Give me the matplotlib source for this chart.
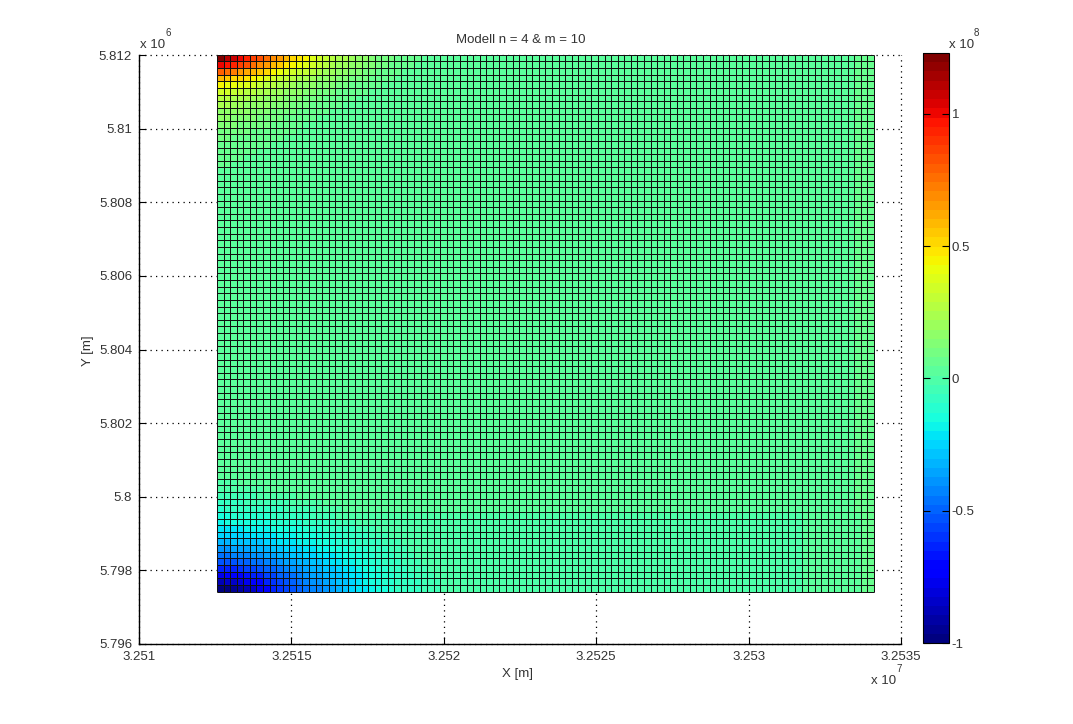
import numpy as np
import matplotlib
matplotlib.use("Agg")
import matplotlib.pyplot as plt

plt.rcParams["font.family"] = ["Liberation Sans", "DejaVu Sans"]

# grid of the model, in metres
x_start = 32512559
x_step = 215.5
y_start = 5797426
y_step = 180

x_ticks = [32510000, 32515000, 32520000, 32525000, 32530000, 32535000]
x_tick_labels = ["3.251", "3.2515", "3.252", "3.2525", "3.253", "3.2535"]
y_ticks = [5796000, 5798000, 5800000, 5802000, 5804000, 5806000, 5808000, 5810000, 5812000]
y_tick_labels = ["5.796", "5.798", "5.8", "5.802", "5.804", "5.806", "5.808", "5.81", "5.812"]
cbar_ticks = [-1e8, -0.5e8, 0, 0.5e8, 1e8]
cbar_tick_labels = ["-1", "-0.5", "0", "0.5", "1"]

# values below are in units of 1e6
# level over most of the field, one entry per column and per row
col_level = [1, 1, 1, 1, 1, 1, 1, 1, 1, 1, 1, 1, 1, 1, 1, 1, 1, 1, 1, 1,
             1, 1, 1, 1, 1, 1, 1, 1, 1, 1, 1, 1, 1, 1, 1, 1, 1, 1, 1, 1,
             1, 1, 1, 1, 1, 1, 1, 1, 1, 1, 1, 1, 1, 1, 1, 1, 1, 1, 1, 1,
             1, 1, 1, 1, 1, 1, 1, 1, 1, 1, 1, 1, 1, 1, 1, 1, 1, 1, 1, 1,
             1, 1, 1, 1, 1, 1, 1, 1, 1, 2, 2, 2, 2, 2, 2, 3, 3, 4, 5, 7]
row_level = [0, 0, 0, 0, 0, 0, 0, 0, 0, 0, 0, 0, 1, 1, 1, 1, 1, 1, 1, 1,
             1, 1, 1, 1, 1, 1, 1, 1, 1, 1, 1, 1, 1, 1, 1, 1, 1, 1, 1, 1,
             1, 1, 1, 1, 1, 1, 1, 1, 1, 1, 1, 1, 1, 1, 1, 1, 1, 1, 1, 1,
             1, 1, 1, 1, 1, 1, 1, 1, 1, 1, 1, 1, 1, 1, 1, 1, 1, 1, 1, 1, 1]

# top left corner, first row is the top one
top_left = [
    [120, 112, 106, 100, 94, 88, 82, 76, 70, 64, 58, 52, 47, 43, 39, 35, 31, 28, 25, 22, 19, 17, 15, 13, 11, 10, 9, 8, 7, 6, 5, 4, 3],
    [100, 96, 92, 87, 82, 76, 70, 65, 60, 54, 49, 44, 40, 36, 33, 30, 27, 24, 21, 19, 17, 15, 13, 12, 10, 9, 8, 7, 6, 5, 4, 3],
    [78, 75, 71, 67, 62, 58, 54, 50, 46, 42, 38, 35, 32, 29, 26, 23, 21, 19, 17, 15, 13, 12, 11, 9, 8, 7, 6, 5, 4, 3],
    [58, 56, 53, 50, 47, 44, 41, 38, 35, 32, 29, 26, 24, 22, 20, 18, 16, 15, 13, 12, 11, 10, 9, 8, 7, 6, 5, 4, 3],
    [44, 42, 40, 38, 36, 33, 31, 28, 26, 24, 22, 20, 18, 17, 15, 14, 13, 12, 10, 9, 8, 8, 7, 6, 5, 4, 3],
    [35, 34, 32, 30, 28, 26, 24, 22, 20, 19, 17, 16, 15, 14, 12, 11, 10, 9, 8, 7, 7, 6, 5, 4, 3],
    [28, 27, 25, 24, 22, 21, 19, 18, 17, 15, 14, 13, 12, 11, 10, 9, 8, 7, 7, 6, 5, 4, 3],
    [23, 22, 21, 20, 18, 17, 16, 15, 14, 13, 12, 11, 10, 9, 8, 7, 7, 6, 5, 4, 3],
    [18, 18, 17, 16, 15, 14, 13, 12, 11, 11, 10, 9, 8, 7, 7, 6, 5, 4, 3],
    [15, 15, 14, 13, 13, 12, 11, 10, 9, 9, 8, 7, 7, 6, 5, 4, 3],
    [13, 12, 12, 11, 11, 10, 9, 9, 8, 7, 7, 6, 5, 4, 3],
    [11, 10, 10, 9, 9, 8, 8, 7, 7, 6, 5, 5, 4, 3],
    [9, 9, 8, 8, 8, 7, 7, 6, 6, 5, 4, 3],
    [8, 8, 7, 7, 6, 6, 5, 5, 4, 3],
    [7, 6, 6, 6, 5, 5, 4, 3],
    [6, 5, 5, 5, 4, 3],
    [5, 5, 4, 3],
    [4, 3],
]

# bottom left corner, first row is the bottom one
bottom_left = [
    [-100, -97, -94, -91, -88, -85, -78, -71, -65, -61, -57, -53, -50, -47, -44, -41, -38, -35, -32, -29, -26, -23, -20, -17, -15, -13, -11, -9, -8, -7, -6, -5, -4, -3, -2, -1, 0, 1],
    [-88, -86, -84, -81, -78, -74, -70, -65, -60, -56, -52, -49, -46, -43, -40, -38, -35, -32, -29, -27, -24, -22, -19, -16, -14, -12, -10, -9, -8, -7, -6, -5, -4, -3, -2, -1, 0, 1],
    [-76, -75, -73, -71, -68, -65, -62, -58, -55, -51, -48, -45, -42, -39, -37, -34, -32, -29, -27, -24, -22, -20, -18, -15, -13, -11, -10, -8, -7, -6, -5, -4, -3, -2, -1, 0, 1],
    [-64, -63, -62, -60, -58, -56, -54, -51, -48, -46, -43, -40, -38, -35, -33, -31, -29, -27, -24, -22, -20, -18, -16, -14, -12, -10, -9, -7, -6, -5, -4, -3, -2, -1, 0, 1],
    [-54, -53, -52, -51, -49, -47, -45, -43, -41, -39, -37, -35, -33, -31, -29, -27, -25, -23, -21, -19, -17, -15, -14, -12, -10, -9, -7, -6, -5, -4, -3, -2, -1, 0, 1],
    [-46, -45, -44, -43, -41, -40, -38, -37, -35, -33, -31, -30, -28, -26, -25, -23, -21, -20, -18, -16, -15, -13, -12, -10, -9, -7, -6, -5, -4, -3, -2, -1, 0, 1],
    [-38, -38, -37, -36, -35, -33, -32, -31, -29, -28, -26, -25, -24, -22, -21, -19, -18, -16, -15, -14, -12, -11, -10, -8, -7, -6, -5, -4, -3, -2, -1, 0, 1],
    [-32, -31, -30, -30, -29, -28, -27, -25, -24, -23, -22, -20, -19, -18, -17, -16, -14, -13, -12, -11, -10, -9, -8, -7, -6, -5, -4, -3, -2, -1, 0, 1],
    [-26, -26, -25, -24, -24, -23, -22, -21, -20, -19, -18, -17, -16, -15, -14, -13, -12, -11, -10, -9, -8, -7, -6, -5, -4, -3, -2, -1, 0, 1],
    [-21, -21, -20, -20, -19, -18, -18, -17, -16, -15, -14, -14, -13, -12, -11, -10, -9, -8, -8, -7, -6, -5, -4, -3, -2, -1, 0, 1],
    [-17, -16, -16, -15, -15, -14, -14, -13, -12, -12, -11, -10, -10, -9, -8, -7, -6, -6, -5, -4, -3, -2, -1, 0, 1],
    [-13, -13, -12, -12, -11, -11, -10, -10, -9, -9, -8, -7, -7, -6, -5, -5, -4, -3, -2, -1, 0, 1],
    [-10, -9, -9, -9, -8, -8, -7, -7, -6, -6, -5, -5, -4, -3, -3, -2, -1, 0, 1],
    [-7, -6, -6, -6, -5, -5, -5, -4, -4, -3, -3, -2, -2, -1, 0, 1],
    [-4, -4, -4, -3, -3, -3, -2, -2, -1, -1, 0, 1],
    [-2, -2, -1, -1, 0, 0, 1],
    [0, 0, 1],
]

# put the tables together
z = np.add.outer(np.array(row_level), np.array(col_level)).astype(float)
for i, row in enumerate(bottom_left):
    z[i, :len(row)] = row
for i, row in enumerate(top_left):
    z[-1 - i, :len(row)] = row
z = z * 1e6

x_edges = x_start + x_step * np.arange(len(col_level) + 1)
y_edges = y_start + y_step * np.arange(len(row_level) + 1)

TEXT = "#333333"
W, H = 1073, 724
fig = plt.figure(figsize=(W / 100, H / 100), dpi=100)
ax = fig.add_axes([139 / W, 1 - 644 / H, 762 / W, 589 / H])

mesh = ax.pcolormesh(x_edges, y_edges, z, cmap=plt.get_cmap("jet", 64), vmin=-1e8, vmax=1.23e8)
# cell borders as separate lines, pcolormesh edges come out uneven at this size
ax.vlines(x_edges, y_edges[0], y_edges[-1], color="#101010", linewidth=0.72)
ax.hlines(y_edges, x_edges[0], x_edges[-1], color="#101010", linewidth=0.72)

ax.set_xlim(x_ticks[0], x_ticks[-1])
ax.set_ylim(y_ticks[0], y_ticks[-1])
ax.set_xticks(x_ticks, x_tick_labels)
ax.set_yticks(y_ticks, y_tick_labels)
ax.tick_params(direction="in", length=5, width=0.8, labelsize=9.5, labelcolor=TEXT, pad=5)
ax.spines["top"].set_visible(False)
ax.spines["right"].set_visible(False)
ax.spines["left"].set_linewidth(1.0)
ax.spines["bottom"].set_linewidth(1.0)
ax.set_axisbelow(True)
ax.grid(True, color="black", linewidth=0.9, linestyle=(0, (1, 3.4)))
for line in ax.get_xgridlines() + ax.get_ygridlines():
    line.set_clip_on(False)

fig.text(521 / W, 1 - 40 / H, "Modell n = 4 & m = 10", ha="center", va="center", fontsize=9.5, color=TEXT)
fig.text(518 / W, 1 - 674 / H, "X [m]", ha="center", va="center", fontsize=9.5, color=TEXT)
fig.text(88 / W, 1 - 351 / H, "Y [m]", ha="center", va="center", rotation=90, fontsize=9.5, color=TEXT)

# colorbar
cax = fig.add_axes([923 / W, 1 - 643 / H, 26 / W, 590 / H])
cbar = fig.colorbar(mesh, cax=cax)
cbar.set_ticks(cbar_ticks, labels=cbar_tick_labels)
cbar.ax.tick_params(direction="in", left=True, right=True, length=5, width=0.8, labelsize=9.5, labelcolor=TEXT, pad=2)
cbar.outline.set_linewidth(0.8)

# MATLAB style exponents
for x, y, exp in [(140, 45, "6"), (871, 681, "7"), (949, 45, "8")]:
    fig.text(x / W, 1 - y / H, "x 10", ha="left", va="center", fontsize=9.5, color=TEXT)
    fig.text((x + 25) / W, 1 - (y - 12) / H, exp, ha="left", va="center", fontsize=7, color=TEXT)

fig.savefig("out.png", dpi=100)
